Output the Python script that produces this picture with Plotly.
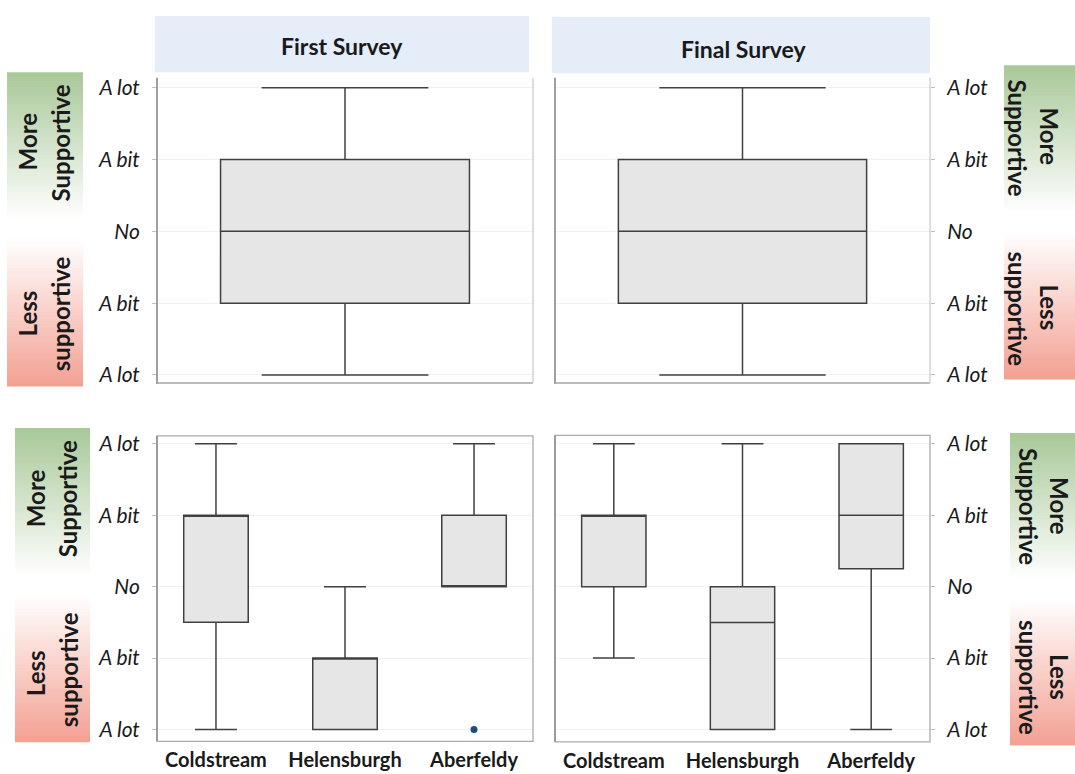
import plotly.graph_objects as go

# ---- data -------------------------------------------------------------
level_vals = [-2, -1, 0, 1, 2]
level_text = ["A lot", "A bit", "No", "A bit", "A lot"]

survey_titles = ["First Survey", "Final Survey"]

# all respondents pooled (one box per survey)
pooled_label = ["All sites"]
pooled_q1 = [-1]
pooled_median = [0]
pooled_q3 = [1]
pooled_lower = [-2]
pooled_upper = [2]

# per site
sites = ["Coldstream", "Helensburgh", "Aberfeldy"]

first_q1 = [-0.5, -2, 0]
first_median = [1, -1, 0]
first_q3 = [1, -1, 1]
first_lower = [-2, -2, 0]
first_upper = [2, 0, 2]
first_outlier_site = ["Aberfeldy"]
first_outlier_val = [-2]

final_q1 = [0, -2, 0.25]
final_median = [1, -0.5, 1]
final_q3 = [1, 0, 2]
final_lower = [-1, -2, -2]
final_upper = [2, 2, 2]

# ---- page geometry (pixels) -------------------------------------------
W, H = 1075, 774
FONT = "Lato"
INK = "#1a1a1a"
BOX_LINE = "#404040"
BOX_FILL = "#E6E6E6"
GRID = "#EDF2F2"


def fx(px):
    return px / W


def fy(py):
    return 1 - py / H


fig = go.Figure()

# panel rectangles: (left, right, top, bottom) in pixels
panels = {
    "tl": (157, 533, 72.7, 381.5),
    "tr": (555, 930, 72.7, 381.5),
    "bl": (157, 533, 435, 744),
    "br": (555, 930, 434.5, 744.5),
}
# pixel rows of the top and bottom "A lot" levels
level_rows = {
    "tl": (82.7, 373.3),
    "tr": (82.7, 373.3),
    "bl": (443, 732),
    "br": (443, 732),
}


def y_range(key):
    left, right, top, bottom = panels[key]
    r_top, r_bot = level_rows[key]
    ppu = (r_bot - r_top) / 4.0
    return [-2 - (bottom - r_bot) / ppu, 2 + (r_top - top) / ppu]


axis_ids = {"tl": "", "tr": "2", "bl": "3", "br": "4"}


def add_boxes(key, cats, q1, med, q3, lo, hi, width, whisker):
    n = axis_ids[key]
    fig.add_trace(go.Box(
        x=cats, q1=q1, median=med, q3=q3, lowerfence=lo, upperfence=hi,
        width=width, whiskerwidth=whisker, boxpoints=False,
        fillcolor=BOX_FILL, line=dict(color=BOX_LINE, width=1.5),
        xaxis="x" + n, yaxis="y" + n, showlegend=False, hoverinfo="skip",
    ))


add_boxes("tl", pooled_label, pooled_q1, pooled_median, pooled_q3,
          pooled_lower, pooled_upper, 0.662, 0.67)
add_boxes("tr", pooled_label, pooled_q1, pooled_median, pooled_q3,
          pooled_lower, pooled_upper, 0.662, 0.67)
add_boxes("bl", sites, first_q1, first_median, first_q3,
          first_lower, first_upper, 0.5, 0.65)
add_boxes("br", sites, final_q1, final_median, final_q3,
          final_lower, final_upper, 0.5, 0.65)

# outlier point
fig.add_trace(go.Scatter(
    x=first_outlier_site, y=first_outlier_val, mode="markers",
    marker=dict(color="#1F4E79", size=7),
    xaxis="x3", yaxis="y3", showlegend=False, hoverinfo="skip",
))

layout_axes = {}
for key, n in axis_ids.items():
    left, right, top, bottom = panels[key]
    on_right = key in ("tr", "br")
    bottom_row = key in ("bl", "br")
    xa = dict(
        domain=[fx(left), fx(right)], anchor="y" + n, type="category",
        showgrid=False, zeroline=False, showline=False, ticks="",
        fixedrange=True,
    )
    if bottom_row:
        xa.update(categoryorder="array", categoryarray=sites,
                  range=[-0.457, 2.457], showticklabels=True,
                  tickfont=dict(family=FONT, size=20, color=INK, weight="bold"),
                  ticklabelstandoff=5)
    else:
        xa.update(categoryorder="array", categoryarray=pooled_label,
                  range=[-0.5, 0.5], showticklabels=False)
    ya = dict(
        domain=[fy(bottom), fy(top)], anchor="x" + n, range=y_range(key),
        tickvals=level_vals, ticktext=level_text,
        tickfont=dict(family=FONT, size=21, color=INK, style="italic"),
        showgrid=True, gridcolor=GRID, gridwidth=1, zeroline=False,
        showline=False, ticks="outside", ticklen=4, tickcolor="#BFBFBF",
        ticklabelstandoff=8, side="right" if on_right else "left",
        fixedrange=True,
    )
    layout_axes["xaxis" + n] = xa
    layout_axes["yaxis" + n] = ya

shapes = []


def line(x0, y0, x1, y1, color, width=1.3):
    shapes.append(dict(type="line", xref="paper", yref="paper",
                       x0=fx(x0), y0=fy(y0), x1=fx(x1), y1=fy(y1),
                       line=dict(color=color, width=width)))


# panel frames
for key in ("tl", "tr"):
    left, right, top, bottom = panels[key]
    line(left, top, left, bottom + 1, "#808080", 1.5)
    line(left, bottom, right, bottom, "#A6A6A6", 1.5)
    line(right, top, right, bottom, "#C8C8C8", 1.2)
for key in ("bl", "br"):
    left, right, top, bottom = panels[key]
    shapes.append(dict(type="rect", xref="paper", yref="paper",
                       x0=fx(left), x1=fx(right), y0=fy(bottom), y1=fy(top),
                       line=dict(color="#ABABAB", width=1.3)))
    line(left, top, left, bottom, "#8C8C8C", 1.5)

# survey header strips
headers = [(155, 529, 10, 67, 342, 40), (552, 930, 11, 68, 743, 44)]
for (x0, x1, y0, y1, tx, ty), title in zip(headers, survey_titles):
    shapes.append(dict(type="rect", xref="paper", yref="paper", layer="below",
                       x0=fx(x0), x1=fx(x1), y0=fy(y1), y1=fy(y0),
                       fillcolor="#E4EDF8", line=dict(width=0)))

# green-to-red support bands, built from overlapping horizontal stripes
GREEN = (168, 200, 152)
RED = (243, 160, 146)
WHITE = (255, 255, 255)


def mix(c0, c1, t):
    return "rgb({},{},{})".format(*[round(a + (b - a) * t) for a, b in zip(c0, c1)])


def band(x0, x1, y0, y1, step=3.0):
    total = y1 - y0
    y = y0
    while y < y1 - 1e-6:
        ya, yb = y, min(y + step, y1)
        t = ((ya + yb) / 2 - y0) / total
        if t < 0.47:
            col = mix(GREEN, WHITE, t / 0.47)
        elif t < 0.53:
            col = "rgb(255,255,255)"
        else:
            col = mix(WHITE, RED, (t - 0.53) / 0.47)
        shapes.append(dict(type="rect", xref="paper", yref="paper", layer="below",
                           x0=fx(x0), x1=fx(x1), y0=fy(min(yb + 1.5, y1)), y1=fy(ya),
                           fillcolor=col, line=dict(width=0)))
        y = yb


band(7, 83, 67, 385)
band(15, 90, 427, 745)
band(1004, 1075, 60, 378)
band(1010, 1075, 432, 748)

annotations = []
for (x0, x1, y0, y1, tx, ty), title in zip(headers, survey_titles):
    annotations.append(dict(text=title, xref="paper", yref="paper",
                            x=fx(tx), y=fy(ty), showarrow=False,
                            xanchor="center", yanchor="middle",
                            font=dict(family=FONT, size=23, color=INK, weight="bold")))

band_words = [
    # (text, x px, y px, angle)
    ("More", 27, 137, -90), ("Supportive", 60, 139, -90),
    ("Less", 27, 311, -90), ("supportive", 60, 312, -90),
    ("More", 35, 498, -90), ("Supportive", 67, 499, -90),
    ("Less", 35, 675, -90), ("supportive", 68, 672, -90),
    ("More", 1050, 132, 90), ("Supportive", 1018, 133, 90),
    ("Less", 1050, 305, 90), ("supportive", 1018, 306, 90),
    ("More", 1060, 506, 90), ("Supportive", 1029, 506, 90),
    ("Less", 1060, 679, 90), ("supportive", 1029, 679, 90),
]
for text, x, y, ang in band_words:
    annotations.append(dict(text=text, xref="paper", yref="paper",
                            x=fx(x), y=fy(y), showarrow=False, textangle=ang,
                            xanchor="center", yanchor="middle",
                            font=dict(family=FONT, size=24, color=INK, weight="bold")))

fig.update_layout(
    width=W, height=H, margin=dict(l=0, r=0, t=0, b=0),
    paper_bgcolor="white", plot_bgcolor="rgba(0,0,0,0)",
    shapes=shapes, annotations=annotations, showlegend=False,
    **layout_axes,
)

fig.write_html("out.html", config={"displayModeBar": False})
